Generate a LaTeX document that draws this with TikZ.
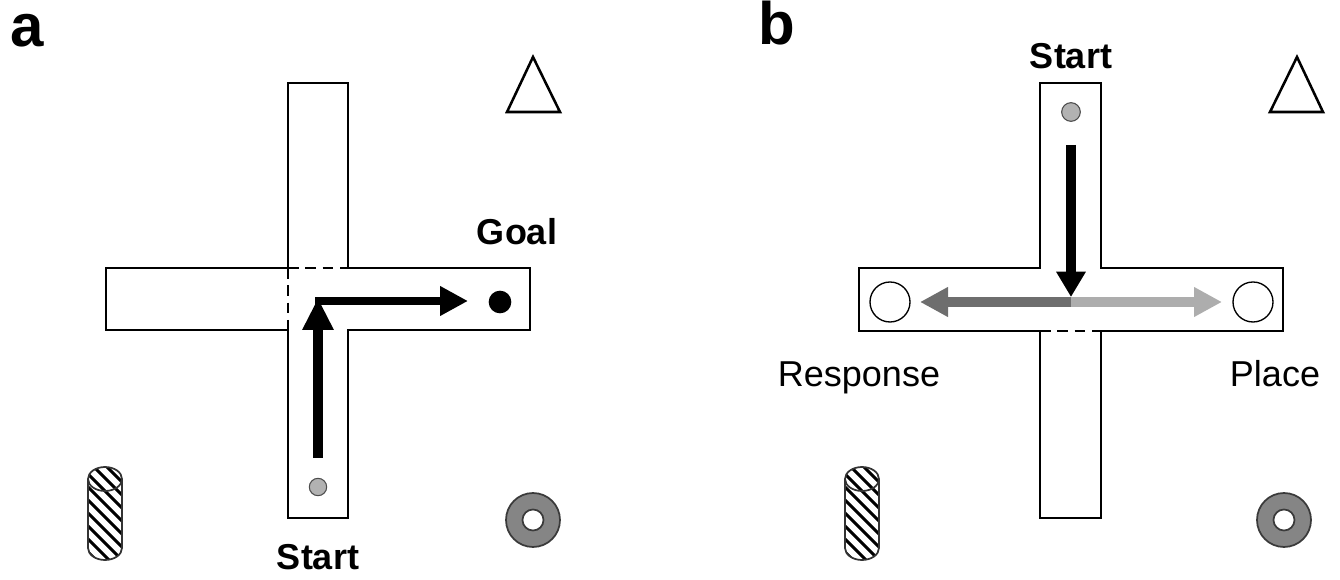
\documentclass[tikz,border=0pt]{standalone}
\usepackage{fontspec}
\setmainfont{Liberation Sans}
\usetikzlibrary{arrows.meta}

\definecolor{startgray}{HTML}{B2B2B2}
\definecolor{ringgray}{HTML}{858585}
\definecolor{ringedge}{HTML}{3A3A3A}
\definecolor{respgray}{HTML}{6E6E6E}
\definecolor{placegray}{HTML}{ADADAD}

\tikzset{
  wall/.style={line width=1.4pt, black, line join=miter},
  doorway/.style={line width=1.8pt, black, dash pattern=on 8pt off 5pt},
  run/.style={line width=7pt, -{Triangle[length=21pt,width=21pt]}},
  lbl/.style={inner sep=0pt, font=\fontsize{27}{27}\selectfont},
  boldlbl/.style={inner sep=0pt, font=\fontsize{27}{27}\selectfont\bfseries},
  panel/.style={inner sep=0pt, anchor=base, font=\fontsize{45}{45}\selectfont\bfseries},
  startdot/.style={fill=startgray, draw=black!70, line width=0.8pt},
  landmark/.style={line width=1.9pt, line join=miter},
  cylinder/.pic={
    \begin{scope}
      \clip (-17,0) -- (-17,69) arc[start angle=180,end angle=0,x radius=17,y radius=12]
        -- (17,0) arc[start angle=0,end angle=-180,x radius=17,y radius=12] -- cycle;
      \foreach \k in {-60,-47,...,100}
        \draw[line width=2.3pt] (-20,\k) -- (20,\k+40);
    \end{scope}
    \draw[line width=1.3pt, black!80] (-17,0) -- (-17,69) arc[start angle=180,end angle=0,x radius=17,y radius=12]
      -- (17,0) arc[start angle=0,end angle=-180,x radius=17,y radius=12] -- cycle;
    \draw[line width=1.3pt, black!80] (-17,0) arc[start angle=180,end angle=0,x radius=17,y radius=12];
  },
  ring/.pic={
    \fill[ringgray, even odd rule] (0,0) circle[radius=27] (0,0) circle[radius=10.5];
    \draw[ringedge, line width=1.3pt] (0,0) circle[radius=27] (0,0) circle[radius=10.5];
  }
}

\begin{document}
\begin{tikzpicture}[x=0.75pt,y=-0.75pt]
\useasboundingbox (0,0) rectangle (1340,580);

% ---------------- panel a ----------------
\node[panel] (labA) at (27,47) {a};

% plus maze, open wall between north arm and centre and between west arm and centre
\draw[wall] (288,268) -- (288,83) -- (348,83) -- (348,268) -- (530,268) -- (530,330)
  -- (348,330) -- (348,518) -- (288,518) -- (288,330) -- (106,330) -- (106,268) -- cycle;
\draw[white, line width=1.6pt] (289,268) -- (347,268) (288,269) -- (288,329);
\draw[doorway] (288,268) -- (348,268);
\draw[doorway] (288,268) -- (288,330);

% route: south arm up to the centre, then east to the goal
\coordinate (aStartRun) at (318,458);
\coordinate (aTurn) at (318,298);
\coordinate (aEast) at (315,301);
\coordinate (aGoalRun) at (468,301);
\draw[run, -{Triangle[length=24pt,width=22pt]}] (aStartRun) -- (aTurn);
\draw[run, line width=6.5pt] (aEast) -- (aGoalRun);

\node[circle, fill=black, minimum size=17pt, inner sep=0pt] (aGoal) at (500,302) {};
\node[circle, startdot, minimum size=13pt, inner sep=0pt] (aStart) at (318,487) {};

\node[boldlbl, anchor=base] (goalTxt) at (517,245) {Goal};
\node[boldlbl, anchor=base] (aStartTxt) at (318,570) {Start};

% extra-maze cues
\draw[landmark] (533,57) -- (560,112) -- (507,112) -- cycle;
\pic at (105,479) {cylinder};
\pic at (533,520) {ring};

% ---------------- panel b ----------------
\node[panel] (labB) at (777,45) {b};

\draw[wall] (1040,268) -- (1040,83) -- (1101,83) -- (1101,268) -- (1283,268) -- (1283,331)
  -- (1101,331) -- (1101,518) -- (1040,518) -- (1040,331) -- (859,331) -- (859,268) -- cycle;
\draw[doorway] (1040,331) -- (1101,331);

\node[circle, startdot, minimum size=14pt, inner sep=0pt] (bStart) at (1071,112) {};
\node[boldlbl, anchor=base] (bStartTxt) at (1071,69) {Start};

\node[circle, draw=black, line width=1pt, minimum size=30pt, inner sep=0pt] (respGoal) at (890,302) {};
\node[circle, draw=black, line width=1pt, minimum size=30pt, inner sep=0pt] (placeGoal) at (1253,302) {};

\coordinate (bCentre) at (1071,302);
\coordinate (bWest) at (920,302);
\coordinate (bEastEnd) at (1222,302);
\coordinate (bTop) at (1071,145);
\coordinate (bDown) at (1071,297);
\draw[run, respgray] (bCentre) -- (bWest);
\draw[run, placegray] (bCentre) -- (bEastEnd);
\draw[run, -{Triangle[length=19pt,width=21pt]}] (bTop) -- (bDown);

\node[lbl, anchor=base] (respTxt) at (859,387) {Response};
\node[lbl, anchor=base] (placeTxt) at (1275,387) {Place};

\draw[landmark] (1297,57) -- (1323,112) -- (1270,112) -- cycle;
\pic at (862,479) {cylinder};
\pic at (1284,520) {ring};
\end{tikzpicture}
\end{document}
